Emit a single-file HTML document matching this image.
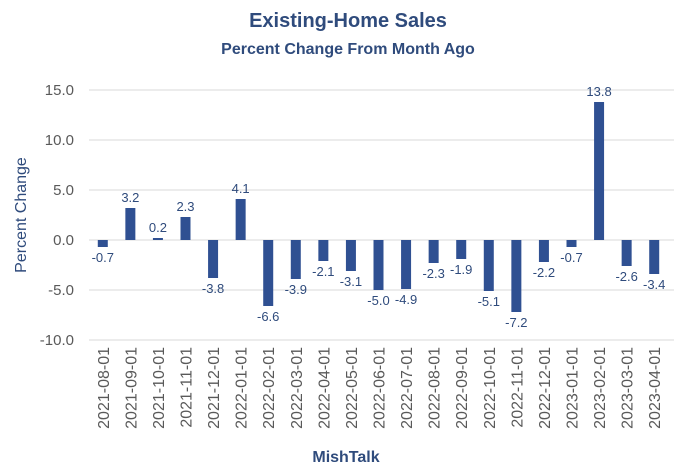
<!DOCTYPE html>
<html><head><meta charset="utf-8"><style>
body{margin:0;background:#fff;}
svg{display:block;font-family:"Liberation Sans",sans-serif;}
</style></head><body>
<svg id="chart" width="692" height="473" viewBox="0 0 692 473">
<text x="348" y="27" text-anchor="middle" font-size="20" font-weight="bold" fill="#2f4b7c">Existing-Home Sales</text>
<text x="348" y="54" text-anchor="middle" font-size="16" font-weight="bold" fill="#2f4b7c">Percent Change From Month Ago</text>
<text transform="translate(26,215) rotate(-90)" text-anchor="middle" font-size="16" fill="#2f4b7c">Percent Change</text>
<text x="346" y="462" text-anchor="middle" font-size="16" font-weight="bold" fill="#2f4b7c">MishTalk</text>
<g id="grid"></g><g id="bars"></g><g id="labels"></g><g id="xt"></g>
</svg>
<script>
const categories=["2021-08-01","2021-09-01","2021-10-01","2021-11-01","2021-12-01","2022-01-01","2022-02-01","2022-03-01","2022-04-01","2022-05-01","2022-06-01","2022-07-01","2022-08-01","2022-09-01","2022-10-01","2022-11-01","2022-12-01","2023-01-01","2023-02-01","2023-03-01","2023-04-01"];
const values=[-0.7,3.2,0.2,2.3,-3.8,4.1,-6.6,-3.9,-2.1,-3.1,-5.0,-4.9,-2.3,-1.9,-5.1,-7.2,-2.2,-0.7,13.8,-2.6,-3.4];
const yTicks=[15,10,5,0,-5,-10];
const NS="http://www.w3.org/2000/svg";
const x0=89,x1=668,step=(x1-x0)/categories.length;
const y=v=>240-v*10;
const xc=i=>x0+step*(i+0.5);
const mk=(t,a,p)=>{const e=document.createElementNS(NS,t);for(const k in a)e.setAttribute(k,a[k]);p.appendChild(e);return e;};
const grid=document.getElementById('grid'),bars=document.getElementById('bars'),labels=document.getElementById('labels'),xt=document.getElementById('xt');
yTicks.forEach(t=>{
 const l=mk('line',{x1:x0,x2:x1+6,y1:y(t),y2:y(t),stroke:'#d9d9d9','stroke-width':1},grid);
 
 
 const tx=mk('text',{x:74,y:y(t)+5,'text-anchor':'end','font-size':15,fill:'#595959'},grid);
 tx.textContent=t.toFixed(1);
 
 
});
values.forEach((v,i)=>{
 const b=mk('rect',{x:xc(i)-5,y:Math.min(y(v),y(0)),width:10,height:Math.abs(v)*10,fill:'#2f5092'},bars);
 
 
 const ly=v>=0?y(v)-6:y(v)+15;
 const t=mk('text',{x:xc(i),y:ly,'text-anchor':'middle','font-size':13,fill:'#2f4b7c'},labels);
 t.textContent=v.toFixed(1);
 
 
 const c=mk('text',{transform:`translate(${xc(i)+6},347) rotate(-90)`,'text-anchor':'end','font-size':16,fill:'#595959'},xt);
 c.textContent=categories[i];
 
 
});
</script>
</body></html>
